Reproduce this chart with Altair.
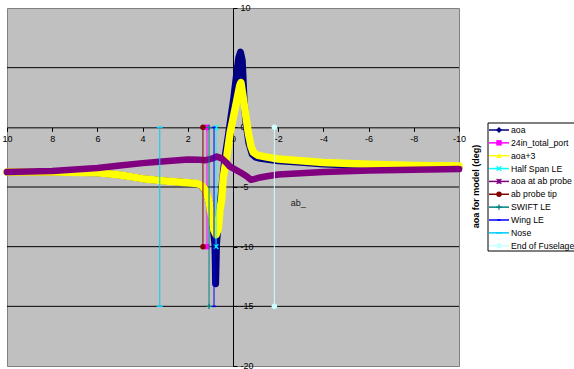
import altair as alt
import pandas as pd

# ---------------- data ----------------
# aoa (navy)
aoa_x = [10, 8, 6, 5, 4, 3, 2, 1.6, 1.4, 1.2, 1.05, 0.95, 0.87, 0.8, 0.78, 0.77, 0.75, 0.73, 0.68,
         0.58, 0.48, 0.36, 0.2, 0.08, -0.02, -0.15, -0.25, -0.33, -0.41, -0.49, -0.58, -0.7,
         -0.85, -1.0, -1.2, -1.5, -2, -3, -4, -6, -8, -10]
aoa_y = [-3.75, -3.75, -3.8, -4.0, -4.3, -4.5, -4.65, -4.72, -4.9, -5.35, -6.3, -7.3, -8.6, -9.8,
         -11.5, -13.1, -11.5, -9.8, -8.6, -6.8, -4.8, -2.6, -0.6, 1.0, 2.26, 4.3, 5.8, 6.3, 5.6,
         2.26, 0.3, -1.3, -2.25, -2.5, -2.6, -2.68, -2.8, -2.93, -3.08, -3.22, -3.3, -3.36]

# aoa+3 (yellow)
aoa3_x = [10, 8, 6, 5, 4, 3, 2, 1.6, 1.4, 1.2, 1.05, 0.94, 0.85, 0.75, 0.65, 0.58, 0.5, 0.43,
          0.28, 0.13, 0.0, -0.17, -0.3, -0.35, -0.45, -0.55, -0.68, -0.8, -0.9, -1.1, -1.5,
          -2, -3, -4, -6, -8, -10]
aoa3_y = [-3.75, -3.75, -3.8, -4.0, -4.3, -4.5, -4.65, -4.7, -4.85, -5.3, -6.3, -7.5, -8.6, -9.0,
          -8.5, -7.0, -6.0, -4.2, -2.5, -0.5, 0.7, 2.26, 3.5, 3.75, 2.5, 1.2, -0.5, -1.6, -2.1,
          -2.35, -2.5, -2.65, -2.8, -2.95, -3.1, -3.2, -3.25]

# aoa at ab probe (purple)
probe_x = [10, 8, 6, 5, 4, 3, 2, 1.5, 1.2, 0.9, 0.72, 0.5, 0.3, 0.13, -0.3, -0.6, -0.8, -1.2,
           -1.5, -2, -3, -4, -6, -8, -10]
probe_y = [-3.75, -3.65, -3.4, -3.2, -3.0, -2.85, -2.7, -2.72, -2.75, -2.6, -2.45, -2.6, -2.95,
           -3.3, -3.75, -4.1, -4.4, -4.2, -4.1, -3.95, -3.85, -3.75, -3.62, -3.55, -3.5]

# station lines (drawn from 0 down to a bottom value)
station_names = ["24in_total_port", "Half Span LE", "ab probe tip", "SWIFT LE",
                 "Wing LE", "Nose", "End of Fuselage"]
station_x = [1.15, 0.75, 1.33, 1.06, 0.84, 3.24, -1.83]
station_top = [0, 0, 0, 0, 0, 0, 0]
station_bottom = [-10, -10, -10, -15, -15, -15, -15]

# legend
series_names = ["aoa", "24in_total_port", "aoa+3", "Half Span LE", "aoa at ab probe",
                "ab probe tip", "SWIFT LE", "Wing LE", "Nose", "End of Fuselage"]

x_ticks = [10, 8, 6, 4, 2, 0, -2, -4, -6, -8, -10]
y_ticks = [10, 5, 0, -5, -10, -15, -20]
grid_y = [5, -5, -10, -15]

note_text = ["ab_"]
note_x = [-2.55]
note_y = [-6.3]

# ---------------- styles ----------------
COLORS = {
    "aoa": "#000080", "24in_total_port": "#FF00FF", "aoa+3": "#FFFF00",
    "Half Span LE": "#00FFFF", "aoa at ab probe": "#800080", "ab probe tip": "#800000",
    "SWIFT LE": "#008080", "Wing LE": "#0000FF", "Nose": "#00CCFF",
    "End of Fuselage": "#CCFFFF",
}
XMARK = "M-1,-1L1,1M-1,1L1,-1"
STAR = "M-1,-1L1,1M-1,1L1,-1M0,-1L0,1"
PLUS = "M-1,0L1,0M0,-1L0,1"
SDASH = "M-0.6,-0.3L0.6,-0.3L0.6,0.3L-0.6,0.3Z"
LDASH = "M-1,-0.25L1,-0.25L1,0.25L-1,0.25Z"
# (shape, filled, size)
MARKERS = {
    "aoa": ("diamond", True, 36), "24in_total_port": ("square", True, 30),
    "aoa+3": ("triangle-up", True, 30), "Half Span LE": (XMARK, False, 22),
    "aoa at ab probe": (STAR, False, 22), "ab probe tip": ("circle", True, 30),
    "SWIFT LE": (PLUS, False, 28), "Wing LE": (SDASH, True, 30),
    "Nose": (LDASH, True, 36), "End of Fuselage": ("circle", True, 30),
}
FONT = "Liberation Sans"
LABEL = "'' + datum.value"   # plain hyphen-minus like the reference

W, H = 452, 358
xs = alt.Scale(domain=[-10, 10], reverse=True, nice=False, zero=False)
ys = alt.Scale(domain=[-20, 10], nice=False, zero=False)

x_axis = alt.Axis(values=x_ticks, orient="bottom", offset=-(H * 20 / 30), title=None, grid=False,
                  domainColor="black", tickColor="black", tickSize=4, labelFontSize=9,
                  labelFont=FONT, labelColor="black", labelPadding=3, labelFlush=False,
                  labelOverlap=False, labelExpr=LABEL)
y_axis = alt.Axis(values=y_ticks, orient="right", offset=-(W / 2), grid=False,
                  domainColor="black", tickColor="black", tickSize=4, labelFontSize=9,
                  labelFont=FONT, labelColor="black", labelPadding=3, labelAlign="left",
                  labelBaseline="alphabetic", labelOffset=2.4, labelFlush=False,
                  labelOverlap=False, labelExpr=LABEL,
                  title="aoa for model (deg)", titleAngle=270, titleX=242, titleY=178,
                  titleFont=FONT, titleFontSize=9, titleFontWeight="bold", titleColor="black",
                  titleAlign="center", titleBaseline="middle")


def X(field="x"):
    return alt.X(f"{field}:Q", scale=xs, axis=x_axis)


def Y(field="y"):
    return alt.Y(f"{field}:Q", scale=ys, axis=y_axis)


def curve(xv, yv, name, width):
    df = pd.DataFrame({"x": xv, "y": yv, "i": list(range(len(xv)))})
    return alt.Chart(df).mark_line(color=COLORS[name], strokeWidth=width, strokeCap="round",
                                   strokeJoin="round").encode(x=X(), y=Y(), order="i:Q")


def station(idx):
    name = station_names[idx]
    df = pd.DataFrame({"x": [station_x[idx]] * 2,
                       "y": [station_top[idx], station_bottom[idx]], "i": [0, 1]})
    shape, filled, size = MARKERS[name]
    base = alt.Chart(df).encode(x=X(), y=Y())
    line = base.mark_line(color=COLORS[name], strokeWidth=1).encode(order="i:Q")
    pts = base.mark_point(shape=shape, filled=filled, size=size, color=COLORS[name],
                          strokeWidth=1.3, opacity=1)
    return [line, pts]


grid = alt.Chart(pd.DataFrame({"x": [0] * len(grid_y), "y": grid_y})).mark_rule(
    color="black", strokeWidth=1).encode(y=Y())

main_layers = [grid, curve(aoa_x, aoa_y, "aoa", 7)]
main_layers += station(station_names.index("24in_total_port"))
main_layers.append(curve(aoa3_x, aoa3_y, "aoa+3", 7.5))
main_layers += station(station_names.index("Half Span LE"))
main_layers.append(curve(probe_x, probe_y, "aoa at ab probe", 6.5))
for nm in ["ab probe tip", "SWIFT LE", "Wing LE", "Nose", "End of Fuselage"]:
    main_layers += station(station_names.index(nm))

note = alt.Chart(pd.DataFrame({"x": note_x, "y": note_y, "t": note_text})).mark_text(
    align="left", baseline="middle", font=FONT, fontSize=9, color="#202020").encode(
    x=X(), y=Y(), text="t:N")
main_layers.append(note)

main = alt.layer(*main_layers)

# ---------------- legend (drawn from the series list) ----------------
ly = alt.Scale(domain=[0, len(series_names) - 1], range=[122, 237.7], nice=False, zero=False)
box = alt.Chart(pd.DataFrame({"k": [0]})).mark_rect(fill="white", stroke="black",
                                                     strokeWidth=1).encode(
    x=alt.value(481), x2=alt.value(585), y=alt.value(115), y2=alt.value(243))
legend_layers = [box]
for i, nm in enumerate(series_names):
    d = alt.Chart(pd.DataFrame({"row": [i], "name": [nm]}))
    ypos = alt.Y("row:Q", scale=ly, axis=None)
    legend_layers.append(d.mark_rule(color=COLORS[nm], strokeWidth=1.5).encode(
        x=alt.value(482), x2=alt.value(502), y=ypos))
    shape, filled, size = MARKERS[nm]
    legend_layers.append(d.mark_point(shape=shape, filled=filled, size=size, color=COLORS[nm],
                                      strokeWidth=1.3, opacity=1).encode(x=alt.value(492), y=ypos))
legend_layers.append(
    alt.Chart(pd.DataFrame({"row": list(range(len(series_names))), "name": series_names}))
    .mark_text(align="left", baseline="middle", font=FONT, fontSize=8.7, color="black")
    .encode(x=alt.value(504), y=alt.Y("row:Q", scale=ly, axis=None), text="name:N"))
legend = alt.layer(*legend_layers)

chart = alt.layer(main, legend).resolve_scale(y="independent", x="independent").properties(
    width=W, height=H,
    autosize=alt.AutoSizeParams(type="none"),
    padding={"left": 7, "top": 8, "right": 115, "bottom": 3},
    background="white",
).configure_view(fill="#C0C0C0", stroke="#808080", strokeWidth=1)

chart.save("out.html", embed_options={"renderer": "svg", "actions": False})
